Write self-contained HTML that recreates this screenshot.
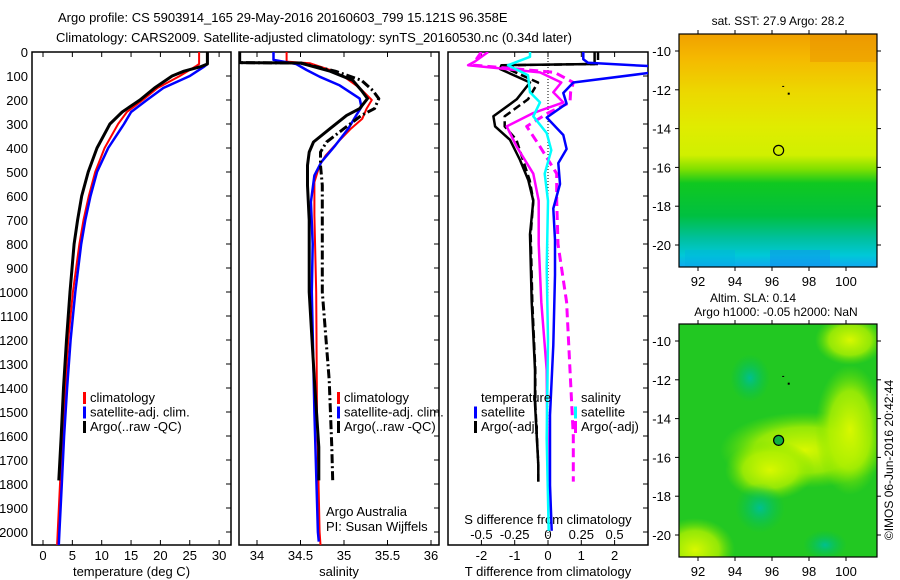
<!DOCTYPE html>
<html><head><meta charset="utf-8"><style>
html,body{margin:0;padding:0;background:#fff;width:900px;height:580px;overflow:hidden}
svg{display:block;font-family:"Liberation Sans",sans-serif;font-size:13px}
</style></head><body>
<svg id="chart" width="900" height="580" viewBox="0 0 900 580">
<defs>
<clipPath id="c1"><rect x="32" y="52" width="199" height="493"/></clipPath>
<clipPath id="c2"><rect x="239" y="52" width="200" height="493"/></clipPath>
<clipPath id="c3"><rect x="448" y="52" width="200" height="493"/></clipPath>
<clipPath id="cm2"><rect x="679" y="324" width="198" height="233"/></clipPath>
<linearGradient id="sstg" x1="0" y1="0" x2="0" y2="1">
<stop offset="0" stop-color="#f0a000"/><stop offset="0.1" stop-color="#f5b800"/>
<stop offset="0.25" stop-color="#ecd800"/><stop offset="0.4" stop-color="#e0ec00"/>
<stop offset="0.52" stop-color="#d0f000"/><stop offset="0.58" stop-color="#80e000"/>
<stop offset="0.64" stop-color="#10c820"/><stop offset="0.78" stop-color="#00c040"/>
<stop offset="0.88" stop-color="#00c0a0"/><stop offset="0.95" stop-color="#00c8d8"/>
<stop offset="1" stop-color="#10a8f0"/></linearGradient>
<radialGradient id="yb" cx="0.5" cy="0.5" r="0.5"><stop offset="0" stop-color="#d8f800"/><stop offset="0.6" stop-color="#b0f000" stop-opacity="0.8"/><stop offset="1" stop-color="#70e000" stop-opacity="0"/></radialGradient>
<radialGradient id="cb" cx="0.5" cy="0.5" r="0.5"><stop offset="0" stop-color="#00c090"/><stop offset="1" stop-color="#00c050" stop-opacity="0"/></radialGradient>
</defs>
<text x="58" y="22">Argo profile: CS 5903914_165 29-May-2016 20160603_799 15.121S 96.358E</text>
<text x="56" y="42">Climatology: CARS2009. Satellite-adjusted climatology: synTS_20160530.nc (0.34d later)</text>
<g id="g1"></g>
<g id="g2"></g>
<g id="g3"></g>
<g id="maps"></g>
<text transform="translate(893,460) rotate(-90)" text-anchor="middle" font-size="12">©IMOS 06-Jun-2016 20:42:44</text>
</svg>
<script>
// depth levels (m) and profiles
const tClimDepth=[0,50,60,100,150,200,250,300,400,500,600,700,800,1000,1200,1400,1600,1800,2000,2054];
const tClim=[26.6,26.6,26,23.3,19.5,17,14.3,12.8,10.5,8.9,7.8,6.9,6.2,5.1,4.3,3.8,3.3,2.9,2.5,2.4];
const tSat=[28,28,27.5,25,20.5,17.7,15,13.8,11.1,9.2,8.1,7.2,6.5,5.5,4.7,4.1,3.6,3.2,2.8,2.7];
const tArgoDepth=[0,50,60,80,100,150,200,250,300,400,500,600,700,800,1000,1200,1400,1600,1785];
const tArgo=[28,28,27,24,22,19,16.5,13.5,11.4,9.2,7.7,6.6,5.9,5.3,4.6,4,3.5,3.1,2.7];
const sClimDepth=[0,40,47,75,103,150,200,236,278,319,375,431,472,542,681,1000,1500,2000,2054];
const sClim=[34.34,34.34,34.61,34.84,35.0,35.18,35.32,35.26,35.21,35.08,34.93,34.79,34.72,34.66,34.66,34.68,34.69,34.72,34.73];
const sSatDepth=[0,33,50,75,103,139,194,229,264,319,389,458,514,625,800,1000,1500,2000,2040];
const sSat=[34.19,34.19,34.45,34.57,34.72,34.95,35.18,35.2,35.14,35.05,34.9,34.74,34.66,34.62,34.64,34.63,34.66,34.7,34.71];
const sArgoDepth=[0,44,46,80,118,160,194,236,264,319,375,417,472,556,700,1000,1367,1646,1785];
const sArgo=[33.8,33.8,34.5,34.84,35.1,35.2,35.27,35.18,35.03,34.84,34.65,34.6,34.58,34.58,34.6,34.6,34.66,34.71,34.71];
const sRaw=[33.8,33.8,34.5,34.9,35.2,35.33,35.4,35.35,35.2,35.0,34.8,34.73,34.73,34.75,34.75,34.75,34.83,34.86,34.87];
// difference panel
const dTSatDepth=[0,30,45,60,84,127,171,215,273,346,404,463,550,652,782,929,1222,1513,1805,1995];
const dTSat=[1.06,1.06,1.2,3.2,3.2,0.76,0.46,0.56,-0.04,0.46,0.56,0.31,0.36,0.16,0.21,0.21,0.16,0.06,0.06,0.11];
const dTArgoDepth=[0,50,55,71,127,197,268,310,366,450,535,620,760,1042,1325,1466,1720,1790];
const dTArgo=[1.4,1.4,-1.4,-1.44,-0.54,-0.94,-1.64,-1.59,-1.14,-0.84,-0.59,-0.44,-0.54,-0.49,-0.39,-0.39,-0.29,-0.29];
const dTRaw=[1.5,1.5,-1.2,-1.2,-0.3,-0.6,-1.3,-1.3,-0.95,-0.75,-0.55,-0.44,-0.52,-0.47,-0.38,-0.38,-0.29,-0.29];
const dSSatDepth=[0,20,55,97,168,210,268,338,409,507,620,900,1200,1610,1995];
const dSSat=[-0.135,-0.135,-0.3,-0.15,-0.135,-0.06,-0.11,-0.01,0.025,-0.025,0,-0.01,0,-0.01,0.005];
const dSArgoDepth=[0,40,55,85,127,168,210,254,310,394,507,620,800,1042,1325,1600,1790];
const dSArgo=[-0.45,-0.55,-0.6,-0.06,0.1,0.04,0.115,-0.11,-0.31,-0.235,-0.11,-0.07,-0.07,-0.05,-0.01,-0.005,0];
const dSRaw=[-0.5,-0.55,-0.55,0.05,0.19,0.17,0.165,0.0,-0.16,-0.06,0.065,0.065,0.075,0.14,0.165,0.19,0.19];
const depthTicks=[0,100,200,300,400,500,600,700,800,900,1000,1100,1200,1300,1400,1500,1600,1700,1800,1900,2000];
const tTicks=[0,5,10,15,20,25,30];
const sTicks=[34,34.5,35,35.5,36];
const dTicks=[-2,-1,0,1,2];
const dSLabels=['-0.5','-0.25','0','0.25','0.5'];

const NS='http://www.w3.org/2000/svg';
function mk(tag,attrs,parent,text){const e=document.createElementNS(NS,tag);for(const k in attrs)e.setAttribute(k,attrs[k]);if(text!==undefined)e.textContent=text;parent.appendChild(e);return e;}
const dy=d=>52+d*0.24;
const tx=t=>43+t*5.87;
const sx=s=>257+(s-34)*87;
const vx=v=>548+v*33.3;

function frame(g,x0,x1,xticks,xf,labels,axisTitle,leftLabels){
  const r=mk('rect',{x:x0,y:52,width:x1-x0,height:493,fill:'none',stroke:'#000','stroke-width':1.5},g);
  
  
  depthTicks.forEach(d=>{
    const y=dy(d);
    mk('line',{x1:x1-5,x2:x1,y1:y,y2:y,stroke:'#000'},g);
    if(leftLabels){const t=mk('text',{x:28,y:y+5,'text-anchor':'end'},g,String(d));
      
      }
  });
  xticks.forEach((v,i)=>{
    const x=xf(v);
    mk('line',{x1:x,x2:x,y1:52,y2:57,stroke:'#000'},g);
    mk('line',{x1:x,x2:x,y1:545,y2:540,stroke:'#000'},g);
    if(labels){const t=mk('text',{x:x,y:560,'text-anchor':'middle'},g,labels[i]);
      
      }
  });
  const at=mk('text',{x:(x0+x1)/2,y:576,'text-anchor':'middle'},g,axisTitle);
  
  
}
function line(g,clip,depths,vals,xf,color,w,dash,name){
  const pts=depths.map((d,i)=>xf(vals[i]).toFixed(1)+','+dy(d).toFixed(1)).join(' ');
  const p=mk('polyline',{points:pts,fill:'none',stroke:color,'stroke-width':w,'clip-path':'url(#'+clip+')','stroke-linejoin':'round'},g);
  if(dash)p.setAttribute('stroke-dasharray',dash);
  
  
}
function legend(g,x,y,items){
  items.forEach((it,i)=>{
    const yy=y+i*14.5;
    if(it[0]){const m=mk('rect',{x:x,y:yy-10,width:3,height:12,fill:it[0]},g);
      
      }
    const t=mk('text',{x:x+7,y:yy},g,it[1]);
    
    
  });
}
const g1=document.getElementById('g1'),g2=document.getElementById('g2'),g3=document.getElementById('g3');
frame(g1,32,231,tTicks,tx,tTicks.map(String),'temperature (deg C)',true);
line(g1,'c1',tClimDepth,tClim,tx,'#f00',2,null,'climatology-temperature-line');
line(g1,'c1',tClimDepth,tSat,tx,'#00f',2.5,null,'satellite-temperature-line');
line(g1,'c1',tArgoDepth,tArgo,tx,'#000',3,null,'argo-temperature-line');
legend(g1,83,402,[['#f00','climatology'],['#00f','satellite-adj. clim.'],['#000','Argo(..raw -QC)']]);

frame(g2,239,439,sTicks,sx,sTicks.map(String),'salinity',false);
line(g2,'c2',sClimDepth,sClim,sx,'#f00',2,null,'climatology-salinity-line');
line(g2,'c2',sSatDepth,sSat,sx,'#00f',2.5,null,'satellite-salinity-line');
line(g2,'c2',sArgoDepth,sRaw,sx,'#000',3,'9,3,2,3','argo-raw-salinity-line');
line(g2,'c2',sArgoDepth,sArgo,sx,'#000',3,null,'argo-salinity-line');
legend(g2,337,402,[['#f00','climatology'],['#00f','satellite-adj. clim.'],['#000','Argo(..raw -QC)']]);
[['Argo Australia',516],['PI: Susan Wijffels',531]].forEach(a=>{const t=mk('text',{x:326,y:a[1]},g2,a[0]);
  
  });

frame(g3,448,648,dTicks,vx,dTicks.map(v=>String(v)),'T difference from climatology',false);
dTicks.forEach((v,i)=>{const t=mk('text',{x:vx(v),y:539,'text-anchor':'middle'},g3,dSLabels[i]);
  
  });
const st=mk('text',{x:548,y:524,'text-anchor':'middle'},g3,'S difference from climatology');


mk('line',{x1:vx(0),x2:vx(0),y1:52,y2:545,stroke:'#000','stroke-dasharray':'1,2'},g3);
const s4=v=>vx(v*4);
line(g3,'c3',dTArgoDepth,dTRaw,vx,'#000',2.5,'8,4','argo-raw-t-diff-line');
line(g3,'c3',dTArgoDepth,dTArgo,vx,'#000',2.5,null,'argo-t-diff-line');
line(g3,'c3',dSArgoDepth,dSRaw,s4,'#f0f',3,'9,5','argo-raw-s-diff-line');
line(g3,'c3',dSArgoDepth,dSArgo,s4,'#f0f',2.5,null,'argo-s-diff-line');
line(g3,'c3',dSSatDepth,dSSat,s4,'#0ff',2.5,null,'satellite-s-diff-line');
line(g3,'c3',dTSatDepth,dTSat,vx,'#00f',2.5,null,'satellite-t-diff-line');
legend(g3,474,402,[[null,'temperature'],['#00f','satellite'],['#000','Argo(-adj)']]);
legend(g3,574,402,[[null,'salinity'],['#0ff','satellite'],['#f0f','Argo(-adj)']]);

// maps
const lonTicks=[92,94,96,98,100];
const latTicks=[-10,-12,-14,-16,-18,-20];
const argoPos=[96.358,-15.121];
const mg=document.getElementById('maps');
function map(y0,fillFn,name){
  const mx=lo=>698+(lo-92)*18.5, my=la=>y0+17+(-10-la)*19.4;
  const g=mk('g',{},mg);
  
  
  fillFn(g,mx,my);
  mk('rect',{x:679,y:y0,width:198,height:233,fill:'none',stroke:'#000','stroke-width':1.2},g);
  lonTicks.forEach(l=>{const x=mx(l);mk('line',{x1:x,x2:x,y1:y0,y2:y0-4,stroke:'#000'},g);mk('line',{x1:x,x2:x,y1:y0+233,y2:y0+237,stroke:'#000'},g);
    const t=mk('text',{x:x,y:y0+252,'text-anchor':'middle'},g,String(l));
    
    });
  latTicks.forEach(l=>{const y=my(l);mk('line',{x1:675,x2:679,y1:y,y2:y,stroke:'#000'},g);mk('line',{x1:877,x2:881,y1:y,y2:y,stroke:'#000'},g);
    const t=mk('text',{x:671,y:y+5,'text-anchor':'end'},g,String(l));
    
    });
  mk('rect',{x:mx(96.55),y:my(-11.8),width:2,height:1,fill:'#000'},g);
  mk('rect',{x:mx(96.85),y:my(-12.2)-1,width:2,height:2,fill:'#000'},g);
  return {mx,my,g};
}
const m1=map(34,(g,mx,my)=>{
  mk('rect',{x:679,y:34,width:198,height:233,fill:'url(#sstg)'},g);
  mk('rect',{x:810,y:34,width:67,height:28,fill:'#e89000',opacity:0.45},g);
  mk('rect',{x:685,y:250,width:50,height:17,fill:'#00b0e0',opacity:0.35},g);
  mk('rect',{x:770,y:250,width:60,height:17,fill:'#1090f0',opacity:0.5},g);
},'sst-map');
const c1=mk('circle',{cx:m1.mx(argoPos[0]),cy:m1.my(argoPos[1]),r:5,fill:'none',stroke:'#000','stroke-width':1.2},m1.g);


const t1=mk('text',{x:778,y:25,'text-anchor':'middle',"font-size":12},mg,'sat. SST: 27.9 Argo: 28.2');


const m2=map(324,(g,mx,my)=>{
  const cg=mk('g',{'clip-path':'url(#cm2)'},g);
  mk('rect',{x:679,y:324,width:198,height:233,fill:'#22c822'},cg);
  mk('ellipse',{cx:805,cy:450,rx:85,ry:38,fill:'url(#yb)'},cg);
  mk('ellipse',{cx:850,cy:430,rx:35,ry:65,fill:'url(#yb)'},cg);
  mk('ellipse',{cx:770,cy:470,rx:45,ry:30,fill:'url(#yb)'},cg);
  mk('ellipse',{cx:695,cy:550,rx:40,ry:32,fill:'url(#yb)'},cg);
  mk('ellipse',{cx:850,cy:340,rx:35,ry:25,fill:'url(#yb)'},cg);
  mk('ellipse',{cx:760,cy:508,rx:25,ry:25,fill:'url(#cb)'},cg);
  mk('ellipse',{cx:750,cy:378,rx:20,ry:24,fill:'url(#cb)'},cg);
  mk('ellipse',{cx:825,cy:545,rx:22,ry:15,fill:'url(#cb)'},cg);
},'sla-map');
const c2=mk('circle',{cx:m2.mx(argoPos[0]),cy:m2.my(argoPos[1]),r:5,fill:'#10b040',stroke:'#000','stroke-width':1.2},m2.g);


const t2=mk('text',{x:753,y:302,'text-anchor':'middle',"font-size":12},mg,'Altim. SLA: 0.14');


const t3=mk('text',{x:776,y:316,'text-anchor':'middle',"font-size":12},mg,'Argo h1000: -0.05 h2000: NaN');


</script>
</body></html>
